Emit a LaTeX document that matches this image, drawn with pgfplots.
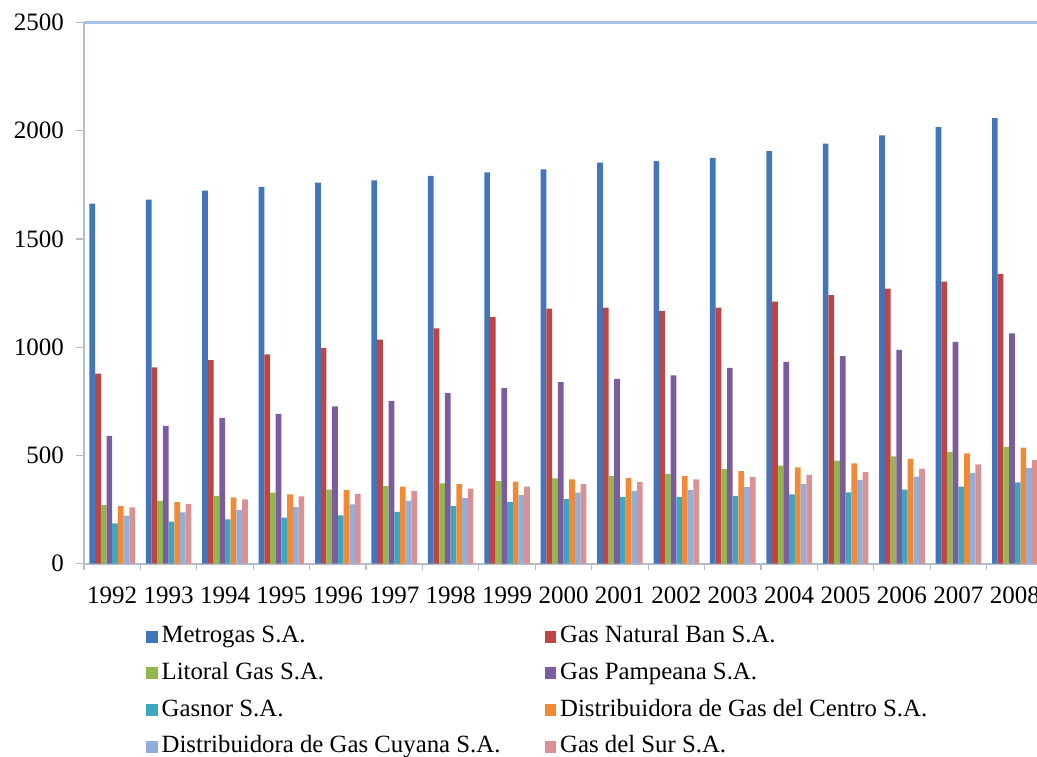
\documentclass[border=0pt]{standalone}
\usepackage{pgfplots}
\pgfplotsset{compat=1.18}
\usepackage{fontspec}
\setmainfont{Liberation Serif}
\definecolor{c1}{HTML}{4275BA}
\definecolor{c2}{HTML}{BD4543}
\definecolor{c3}{HTML}{93B74E}
\definecolor{c4}{HTML}{7A5C9F}
\definecolor{c5}{HTML}{3FA6C2}
\definecolor{c6}{HTML}{F28A35}
\definecolor{c7}{HTML}{91AFD8}
\definecolor{c8}{HTML}{DA9194}
\definecolor{axgray}{HTML}{B4BECB}
\definecolor{topblue}{HTML}{A9C3E6}
\pgfplotsset{myleg/.style={legend image code/.code={\fill[##1] (0pt,-3pt) rectangle (5.8pt,3pt);}}}
\begin{document}
\begin{tikzpicture}
\begin{axis}[
  scale only axis, width=479.5pt, height=270.5pt,
  xmin=-0.5, xmax=16.5, ymin=0, ymax=2500,
  ybar=0pt, bar width=2.85pt,
  axis x line=bottom, axis y line=left, axis line style={-},
  x axis line style={draw=axgray, line width=1pt},
  y axis line style={draw=axgray, line width=1.3pt},
  xtick={0,...,16},
  xticklabels={1992,1993,1994,1995,1996,1997,1998,1999,2000,2001,2002,2003,2004,2005,2006,2007,2008},
  major x tick style={draw=none},
  minor xtick={-0.5,0.5,...,16.5},
  minor x tick style={draw=axgray, line width=0.6pt},
  minor tick length=3pt,
  tick align=outside,
  ytick={0,500,1000,1500,2000,2500},
  major y tick style={draw=axgray, line width=0.6pt},
  major tick length=4pt,
  extra y ticks={2500}, extra y tick labels={},
  extra y tick style={grid=major, major grid style={draw=topblue, line width=1.1pt}, major tick length=0pt},
  /pgf/number format/1000 sep={},
  /pgf/number format/assume math mode=true,
  tick label style={font=\fontsize{12.5}{15}\selectfont},
  yticklabel style={xshift=-2.5pt},
  xticklabel style={yshift=-4pt},
  legend columns=2,
  legend cell align=left,
  legend style={draw=none, fill=none, at={(axis description cs:0.058,-0.0991)}, anchor=north west,
    font=\fontsize{12.4}{15}\selectfont, row sep=3.25pt, column sep=0pt,
    /tikz/every even column/.append style={column sep=20pt},
    nodes={text height=8.6pt, text depth=2.5pt}},
]
\addplot[fill=c1, draw=none, myleg] coordinates {(0,1663)(1,1682)(2,1723)(3,1741)(4,1760)(5,1771)(6,1791)(7,1808)(8,1821)(9,1852)(10,1860)(11,1875)(12,1906)(13,1940)(14,1978)(15,2017)(16,2058)};
\addplot[fill=c2, draw=none, myleg] coordinates {(0,878)(1,906)(2,940)(3,967)(4,996)(5,1035)(6,1087)(7,1140)(8,1178)(9,1183)(10,1167)(11,1183)(12,1210)(13,1240)(14,1270)(15,1303)(16,1338)};
\addplot[fill=c3, draw=none, myleg] coordinates {(0,270)(1,289)(2,313)(3,327)(4,342)(5,358)(6,370)(7,381)(8,393)(9,404)(10,413)(11,436)(12,452)(13,475)(14,495)(15,516)(16,539)};
\addplot[fill=c4, draw=none, myleg] coordinates {(0,590)(1,636)(2,673)(3,692)(4,726)(5,752)(6,787)(7,810)(8,838)(9,853)(10,869)(11,904)(12,932)(13,958)(14,987)(15,1024)(16,1064)};
\addplot[fill=c5, draw=none, myleg] coordinates {(0,185)(1,193)(2,204)(3,212)(4,222)(5,239)(6,265)(7,284)(8,298)(9,308)(10,308)(11,313)(12,319)(13,329)(14,342)(15,355)(16,375)};
\addplot[fill=c6, draw=none, myleg] coordinates {(0,265)(1,284)(2,306)(3,319)(4,339)(5,355)(6,367)(7,378)(8,389)(9,396)(10,404)(11,427)(12,444)(13,463)(14,484)(15,509)(16,535)};
\addplot[fill=c7, draw=none, myleg] coordinates {(0,221)(1,236)(2,247)(3,262)(4,273)(5,289)(6,302)(7,316)(8,327)(9,336)(10,339)(11,353)(12,367)(13,386)(14,401)(15,419)(16,442)};
\addplot[fill=c8, draw=none, myleg] coordinates {(0,259)(1,276)(2,296)(3,310)(4,322)(5,336)(6,346)(7,355)(8,367)(9,376)(10,389)(11,399)(12,410)(13,422)(14,438)(15,458)(16,478)};
\legend{Metrogas S.A.,Gas Natural Ban S.A.,Litoral Gas S.A.,Gas Pampeana S.A.,Gasnor S.A.,Distribuidora de Gas del Centro S.A.,Distribuidora de Gas Cuyana S.A.,Gas del Sur S.A.}
\end{axis}
\pgfresetboundingbox
\path[use as bounding box] ([xshift=-42pt, yshift=-96.25pt]current axis.south west) rectangle ++(518.5pt,378pt);
\end{tikzpicture}
\end{document}
